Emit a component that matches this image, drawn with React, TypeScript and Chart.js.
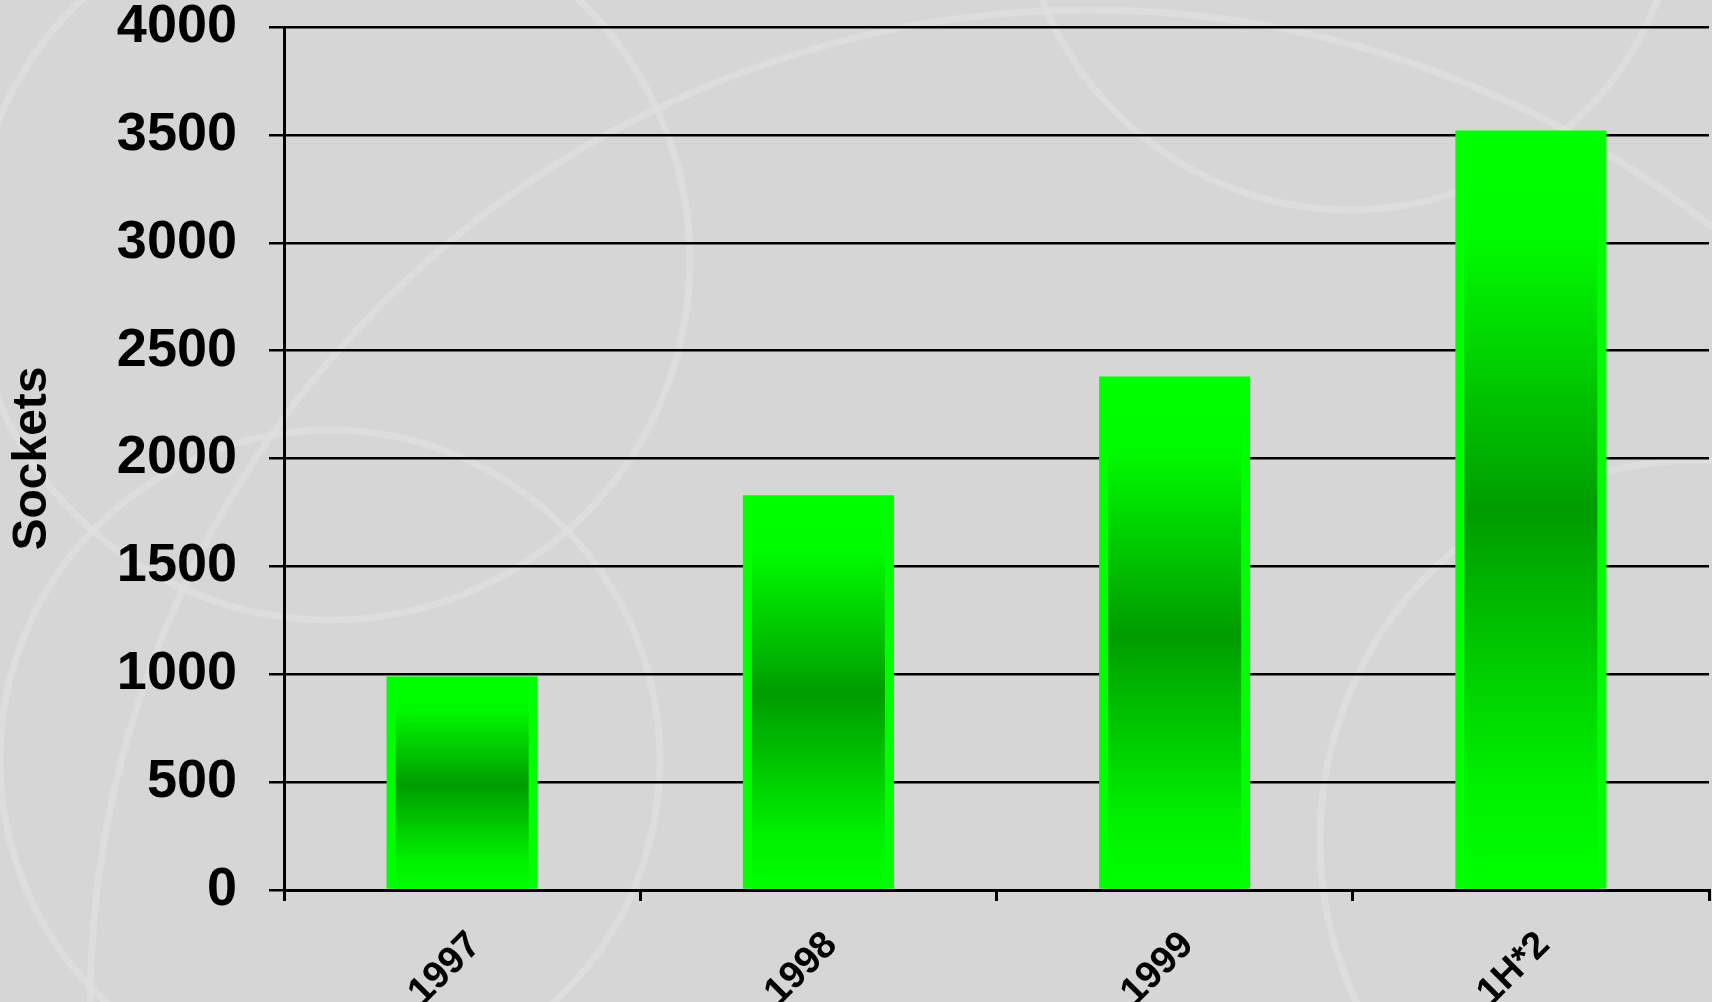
import React, { useEffect, useRef } from "react";
import { Chart, registerables } from "chart.js";

Chart.register(...registerables);

const categories = ["1997", "1998", "1999", "1H*2"];
const sockets = [990, 1830, 2380, 3520];
const yMin = 0;
const yMax = 4000;
const yStep = 500;
const yTitle = "Sockets";

const FONT = "'Liberation Sans', Arial, Helvetica, sans-serif";

const backgroundPlugin = {
  id: "bgArcs",
  beforeDraw(chart: any) {
    const c = chart.ctx;
    c.save();
    c.fillStyle = "#d6d6d6";
    c.fillRect(0, 0, chart.width, chart.height);
    c.strokeStyle = "rgba(225,225,225,0.6)";
    c.lineWidth = 7;
    const arcs = [
      [330, 760, 330],
      [1090, 1010, 1000],
      [1700, 840, 380],
      [330, 260, 360],
      [1350, -120, 330],
    ];
    for (const [x, y, r] of arcs) {
      c.beginPath();
      c.arc(x, y, r, 0, Math.PI * 2);
      c.stroke();
    }
    c.restore();
  },
};

const barGradientPlugin = {
  id: "barGradient",
  afterDatasetsDraw(chart: any) {
    const c = chart.ctx;
    const meta = chart.getDatasetMeta(0);
    c.save();
    for (const el of meta.data) {
      const { x, y, base, width } = el.getProps(["x", "y", "base", "width"], true);
      const edge = 9;
      const left = x - width / 2 + edge;
      const w = width - edge * 2;
      const top = y + 4;
      const bottom = base;
      const g = c.createLinearGradient(0, top, 0, bottom);
      g.addColorStop(0, "#00ff00");
      g.addColorStop(0.14, "#00fa00");
      g.addColorStop(0.5, "#009c00");
      g.addColorStop(0.86, "#00f000");
      g.addColorStop(1, "#00ff00");
      c.fillStyle = g;
      c.fillRect(left, top, w, bottom - top);
    }
    c.restore();
  },
};

export default function App() {
  const ref = useRef<HTMLCanvasElement>(null);
  useEffect(() => {
    if (!ref.current) return;
    const chart = new Chart(ref.current, {
      type: "bar",
      data: {
        labels: categories,
        datasets: [
          {
            data: sockets,
            backgroundColor: "#00ff00",
            borderWidth: 0,
            barPercentage: 0.424,
            categoryPercentage: 1,
          },
        ],
      },
      plugins: [backgroundPlugin, barGradientPlugin],
      options: {
        responsive: false,
        animation: false,
        devicePixelRatio: 1,
        layout: { padding: { top: 27, right: 3, left: 0, bottom: 0 } },
        plugins: { legend: { display: false }, tooltip: { enabled: false } },
        scales: {
          x: {
            grid: {
              offset: true,
              drawOnChartArea: true,
              color: (ctx: any) => (ctx.index === categories.length ? "#000" : "rgba(0,0,0,0)"),
              tickColor: "#000",
              tickLength: 11,
              lineWidth: 3,
            },
            border: { color: "#000", width: 3 },
            ticks: {
              color: "#000",
              font: { family: FONT, size: 38, weight: "bold" },
              minRotation: 45,
              maxRotation: 45,
              padding: 22,
              labelOffset: 13,
            },
            afterFit: (s: any) => {
              s.height = 112;
              s.paddingLeft = 0;
              s.paddingRight = 0;
            },
          },
          y: {
            min: yMin,
            max: yMax,
            grid: { color: "#000", lineWidth: 2.5, tickLength: 15, tickColor: "#000" },
            border: { color: "#000", width: 3 },
            ticks: {
              stepSize: yStep,
              color: "#000",
              font: { family: FONT, size: 54, weight: "bold" },
              padding: 32,
              callback: (v: any) => String(v),
            },
            title: {
              display: true,
              text: yTitle,
              color: "#000",
              font: { family: FONT, size: 48, weight: "bold" },
              padding: { top: 4, bottom: 0 },
            },
            afterFit: (s: any) => {
              s.width = 284;
              s.paddingTop = 0;
              s.paddingBottom = 0;
            },
          },
        },
      },
    });
    return () => chart.destroy();
  }, []);
  return (
    <div style={{ position: "fixed", left: 0, top: 0, width: 1712, height: 1002 }}>
      <canvas ref={ref} width={1712} height={1002} style={{ display: "block" }} />
    </div>
  );
}
